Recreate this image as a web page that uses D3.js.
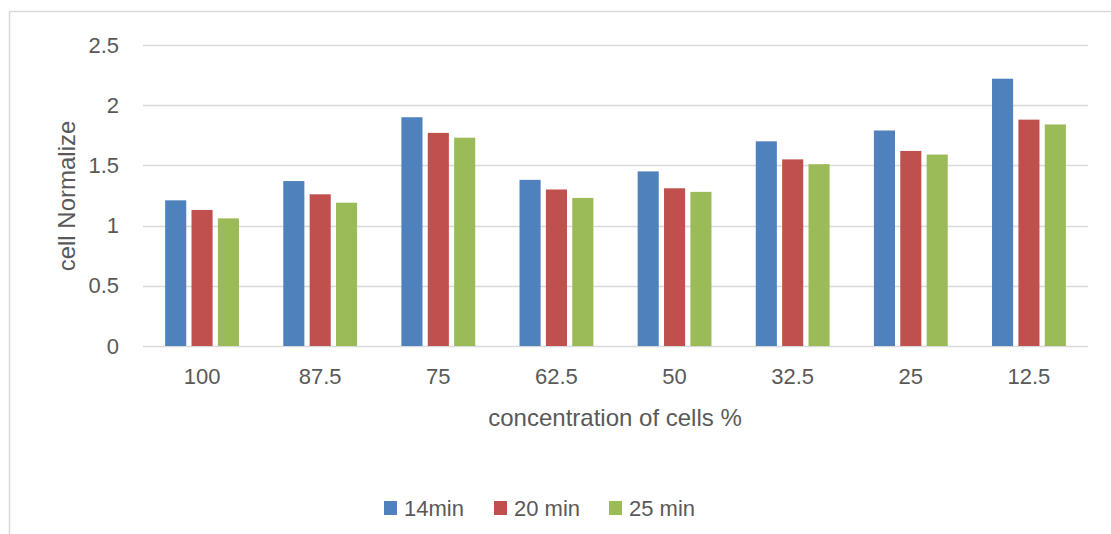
<!DOCTYPE html>
<html>
<head>
<meta charset="utf-8">
<script src="https://cdn.jsdelivr.net/npm/d3@7"></script>
<style>
  body { margin: 0; background: #fff; }
  text { font-family: "Liberation Sans", Arial, sans-serif; fill: #595959; }
</style>
</head>
<body>
<div id="chart"></div>
<script>
// data
const categories = ["100", "87.5", "75", "62.5", "50", "32.5", "25", "12.5"]
const series = ["14min", "20 min", "25 min"]
const min14 = [1.21, 1.37, 1.90, 1.38, 1.45, 1.70, 1.79, 2.22]
const min20 = [1.13, 1.26, 1.77, 1.30, 1.31, 1.55, 1.62, 1.88]
const min25 = [1.06, 1.19, 1.73, 1.23, 1.28, 1.51, 1.59, 1.84]
const yTicks = [0, 0.5, 1, 1.5, 2, 2.5]
const colors = ["#4f81bd", "#c0504d", "#9bbb59"]

const values = [min14, min20, min25]

const width = 1111
const height = 534
const margin = { top: 45, right: 23, bottom: 188, left: 143 }

const svg = d3.select("#chart")
  .append("svg")
    .attr("width", width)
    .attr("height", height)

// chart frame (only top and left edges visible)
svg.append("path")
  .attr("d", "M9.5,534 V11.5 H1111")
  .attr("fill", "none")
  .attr("stroke", "#d9d9d9")
  .attr("stroke-width", 1.5)

const g = svg.append("g")
  .attr("transform", "translate(" + margin.left + "," + margin.top + ")")

const w = width - margin.left - margin.right
const h = height - margin.top - margin.bottom

const x = d3.scaleBand()
  .domain(categories)
  .range([0, w])
  .paddingInner(0.375)
  .paddingOuter(0.1875)

const xs = d3.scaleBand()
  .domain(series)
  .range([0, x.bandwidth()])
  .paddingInner(0.2)

const y = d3.scaleLinear()
  .domain([0, 2.5])
  .range([h, 0])

// gridlines
g.append("g")
  .selectAll("line")
  .data(yTicks)
  .join("line")
    .attr("x1", 0)
    .attr("x2", w)
    .attr("y1", d => Math.round(y(d)) + 0.5)
    .attr("y2", d => Math.round(y(d)) + 0.5)
    .attr("stroke", "#d9d9d9")
    .attr("stroke-width", 1.5)

// y axis labels
g.append("g")
  .call(d3.axisLeft(y).tickValues(yTicks).tickFormat(d3.format("")).tickSize(0).tickPadding(24))
  .call(a => a.select(".domain").remove())
  .selectAll("text")
    .attr("font-size", 22)
    .attr("font-family", null)

// bars
const groups = g.append("g")
  .selectAll("g")
  .data(categories)
  .join("g")
    .attr("transform", d => "translate(" + x(d) + ",0)")

groups.selectAll("rect")
  .data((d, i) => series.map((s, j) => ({ s: s, v: values[j][i], c: colors[j] })))
  .join("rect")
    .attr("x", d => xs(d.s))
    .attr("y", d => y(d.v))
    .attr("width", xs.bandwidth())
    .attr("height", d => y(0) - y(d.v))
    .attr("fill", d => d.c)

// x axis labels
g.append("g")
  .attr("transform", "translate(0," + h + ")")
  .call(d3.axisBottom(x).tickSize(0).tickPadding(22))
  .call(a => a.select(".domain").remove())
  .selectAll("text")
    .attr("font-size", 22)
    .attr("font-family", null)

// axis titles
svg.append("text")
  .attr("x", 615)
  .attr("y", 426)
  .attr("text-anchor", "middle")
  .attr("font-size", 24)
  .text("concentration of cells %")

svg.append("text")
  .attr("transform", "translate(75,196) rotate(-90)")
  .attr("text-anchor", "middle")
  .attr("font-size", 24)
  .text("cell Normalize")

// legend
const legendX = d3.scaleOrdinal().domain(series).range([384, 494, 609])
const legend = svg.append("g")
  .selectAll("g")
  .data(series)
  .join("g")
    .attr("transform", d => "translate(" + legendX(d) + ",501)")

legend.append("rect")
  .attr("width", 13)
  .attr("height", 14)
  .attr("fill", (d, i) => colors[i])

legend.append("text")
  .attr("x", 20)
  .attr("y", 15)
  .attr("font-size", 22)
  .text(d => d)
</script>
</body>
</html>
